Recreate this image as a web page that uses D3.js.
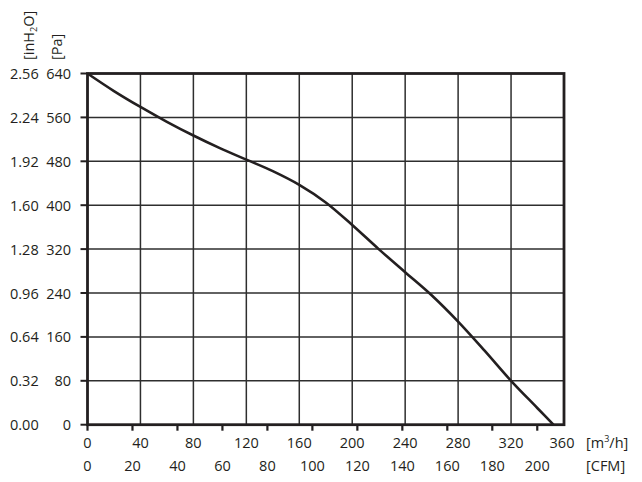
<!DOCTYPE html>
<html>
<head>
<meta charset="utf-8">
<script src="https://cdn.jsdelivr.net/npm/d3@7"></script>
<style>
  html, body { margin: 0; padding: 0; background: #fff; }
  svg text { font-family: "Open Sans", "Noto Sans", sans-serif; fill: #231f20; }
</style>
</head>
<body>
<svg id="chart" width="642" height="482"></svg>
<script>
// Airflow in m3/h
const flowM3h = [0, 20, 40, 60, 80, 100, 120, 140, 160, 180, 200, 220, 240, 260, 280, 300, 320, 340, 352];
// Static pressure in Pa
const pressurePa = [640, 608, 579, 552, 527, 504, 483, 462, 437, 405, 364, 320, 278, 236, 188, 135, 80, 30, 0];

const m3hTicks = [0, 40, 80, 120, 160, 200, 240, 280, 320, 360];
const cfmTicks = [0, 20, 40, 60, 80, 100, 120, 140, 160, 180, 200];
const paTicks = [0, 80, 160, 240, 320, 400, 480, 560, 640];
const inH2OLabels = ["0.00", "0.32", "0.64", "0.96", "1.28", "1.60", "1.92", "2.24", "2.56"];
const CFM_PER_M3H = 1 / 1.699;

const svg = d3.select("#chart");
const ink = "#231f20";
const pL = 87.5, pR = 564, pT = 73.5, pB = 424.7;

const x = d3.scaleLinear().domain([0, 360]).range([pL, pR]);
const xCfm = d3.scaleLinear().domain([0, 360 * CFM_PER_M3H]).range([pL, pR]);
const y = d3.scaleLinear().domain([0, 640]).range([pB, pT]);

// grid
const grid = svg.append("g");
grid.selectAll("line.v").data(m3hTicks.slice(1, -1)).enter().append("line")
  .attr("x1", d => x(d)).attr("x2", d => x(d))
  .attr("y1", pT).attr("y2", pB)
  .attr("stroke", "#2e2e2e").attr("stroke-width", 1.5);
grid.selectAll("line.h").data(paTicks.slice(1, -1)).enter().append("line")
  .attr("x1", pL).attr("x2", pR)
  .attr("y1", d => y(d)).attr("y2", d => y(d))
  .attr("stroke", "#2e2e2e").attr("stroke-width", 1.5);

// left ticks
svg.append("g").selectAll("line").data(paTicks).enter().append("line")
  .attr("x1", pL - 7).attr("x2", pL)
  .attr("y1", d => y(d)).attr("y2", d => y(d))
  .attr("stroke", ink).attr("stroke-width", 2);

// bottom ticks at CFM positions
svg.append("g").selectAll("line").data(cfmTicks).enter().append("line")
  .attr("x1", d => xCfm(d)).attr("x2", d => xCfm(d))
  .attr("y1", pB).attr("y2", pB + 6)
  .attr("stroke", ink).attr("stroke-width", 2.2);

// frame
svg.append("rect")
  .attr("x", pL).attr("y", pT)
  .attr("width", pR - pL).attr("height", pB - pT)
  .attr("fill", "none").attr("stroke", ink).attr("stroke-width", 2.8);

// curve
const line = d3.line()
  .x((d, i) => x(flowM3h[i]))
  .y(d => y(d))
  .curve(d3.curveMonotoneX);
svg.append("path")
  .datum(pressurePa)
  .attr("d", line)
  .attr("fill", "none")
  .attr("stroke", ink)
  .attr("stroke-width", 2.6)
  .attr("stroke-linejoin", "round");

const fs = 14.5;
// y labels
svg.append("g").selectAll("text").data(paTicks).enter().append("text")
  .attr("x", 71).attr("y", d => y(d) + 5.5)
  .attr("text-anchor", "end").attr("font-size", fs)
  .text(d => d);
svg.append("g").selectAll("text").data(inH2OLabels).enter().append("text")
  .attr("x", 10).attr("y", (d, i) => y(paTicks[i]) + 5.5)
  .attr("text-anchor", "start").attr("font-size", fs)
  .text(d => d);

// x labels
svg.append("g").selectAll("text").data(m3hTicks).enter().append("text")
  .attr("x", d => x(d) - (d === 360 ? 2 : 0)).attr("y", 448)
  .attr("text-anchor", "middle").attr("font-size", fs)
  .text(d => d);
svg.append("g").selectAll("text").data(cfmTicks).enter().append("text")
  .attr("x", d => xCfm(d)).attr("y", 471)
  .attr("text-anchor", "middle").attr("font-size", fs)
  .text(d => d);

// unit labels
const mt = svg.append("text").attr("x", 586).attr("y", 448).attr("font-size", fs);
mt.append("tspan").text("[m");
mt.append("tspan").attr("font-size", 9).attr("dy", -6).text("3");
mt.append("tspan").attr("dy", 6).text("/h]");
svg.append("text").attr("x", 586).attr("y", 471).attr("font-size", fs).text("[CFM]");

const t1 = svg.append("text").attr("transform", "translate(34,60) rotate(-90)")
  .attr("font-size", fs).attr("text-anchor", "start");
t1.append("tspan").text("[inH");
t1.append("tspan").attr("font-size", 9).attr("dy", 3).text("2");
t1.append("tspan").attr("dy", -3).text("O]");
svg.append("text").attr("transform", "translate(62,60) rotate(-90)")
  .attr("font-size", fs).attr("text-anchor", "start").text("[Pa]");
</script>
</body>
</html>
